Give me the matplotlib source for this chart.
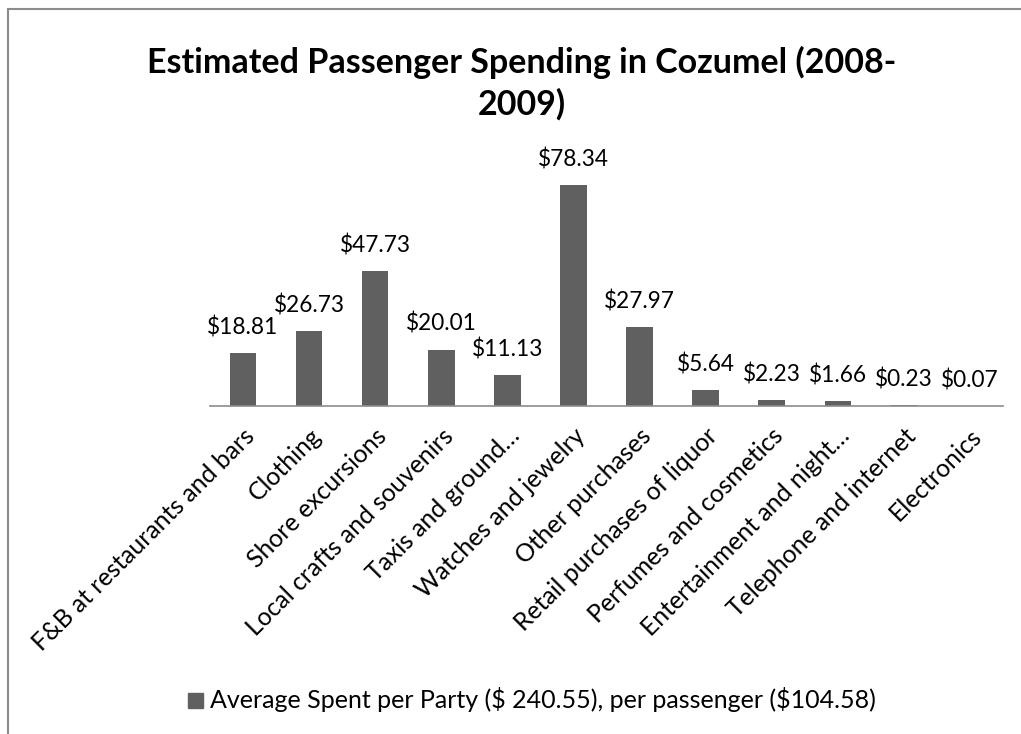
import matplotlib
matplotlib.use("Agg")
import matplotlib.pyplot as plt
from matplotlib.patches import Rectangle

categories = ["F&B at restaurants and bars", "Clothing", "Shore excursions",
              "Local crafts and souvenirs", "Taxis and ground…", "Watches and jewelry",
              "Other purchases", "Retail purchases of liquor", "Perfumes and cosmetics",
              "Entertainment and night…", "Telephone and internet", "Electronics"]
values = [18.81, 26.73, 47.73, 20.01, 11.13, 78.34, 27.97, 5.64, 2.23, 1.66, 0.23, 0.07]
labels = ["\\$18.81", "\\$26.73", "\\$47.73", "\\$20.01", "\\$11.13", "\\$78.34",
          "\\$27.97", "\\$5.64", "\\$2.23", "\\$1.66", "\\$0.23", "\\$0.07"]
title = "Estimated Passenger Spending in Cozumel (2008-\n2009)"
legend_label = "Average Spent per Party (\\$ 240.55), per passenger (\\$104.58)"

plt.rcParams['font.family'] = ['Lato', 'DejaVu Sans']

W, H = 1021, 734
fig = plt.figure(figsize=(W/100, H/100), dpi=100)
fig.patches.append(Rectangle((8/W, -0.1), 1.2, 1 - 9/H + 0.1, transform=fig.transFigure,
                             fill=False, edgecolor='#8c8c8c', linewidth=1.5))

ax = fig.add_axes([210/W, 1 - 406/H, (1003-210)/W, (406-160)/H])
x = list(range(len(values)))
bar_color = '#606060'
ax.bar(x, values, width=0.4, color=bar_color)
ax.set_xlim(-0.5, len(values) - 0.5)
ax.set_ylim(0, 87.2)
for xi, v, lab in zip(x, values, labels):
    ax.annotate(lab, (xi, v), xytext=(0, 10.5), textcoords='offset points',
                ha='center', va='bottom', fontsize=16.3, color='#000000')
for s in ['top', 'right', 'left']:
    ax.spines[s].set_visible(False)
ax.spines['bottom'].set_color('#8c8c8c')
ax.spines['bottom'].set_linewidth(1.2)
ax.set_yticks([])
ax.set_xticks(x)
ax.set_xticklabels(categories, rotation=45, ha='right', rotation_mode='anchor',
                   fontsize=17.8)
ax.tick_params(axis='x', length=0, pad=13)

fig.text(522/W, 1 - 83/H, title, ha='center', va='center', fontsize=24.5,
         fontweight='bold', linespacing=1.32)

fig.patches.append(Rectangle((188/W, 1 - 708/H), 15/W, 15/H, transform=fig.transFigure,
                             color=bar_color))
fig.text(210/W, 1 - 699/H, legend_label, ha='left', va='center', fontsize=18)

fig.savefig("out.png", dpi=100)
